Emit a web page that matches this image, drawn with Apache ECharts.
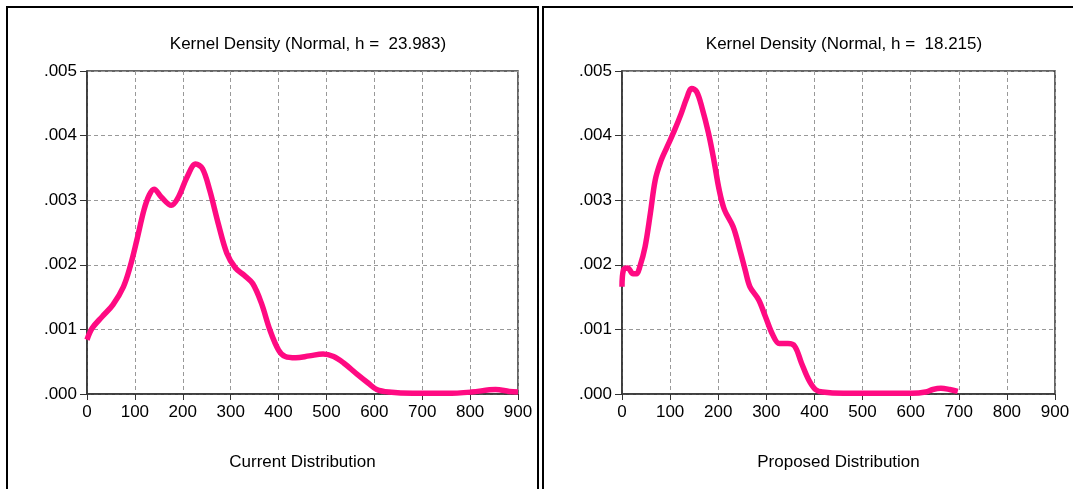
<!DOCTYPE html>
<html>
<head>
<meta charset="utf-8">
<script src="https://cdn.jsdelivr.net/npm/echarts@6/dist/echarts.min.js"></script>
<style>
html,body{margin:0;padding:0;background:#fff;}
#c{width:1073px;height:489px;}
</style>
</head>
<body>
<div id="c"></div>
<script>
// Current distribution kernel density (x, density)
var currentX = [0, 11, 32, 54, 76, 90, 104, 119, 130, 140, 155, 176, 191, 209, 227, 241, 256, 274, 292, 310, 328, 346, 364, 382, 400, 414, 436, 464, 493, 515, 536, 565, 587, 605, 630, 680, 752, 803, 853, 882, 900];
var currentY = [0.00084, 0.00102, 0.00120, 0.00138, 0.00166, 0.00197, 0.00238, 0.00285, 0.00308, 0.00317, 0.00305, 0.00292, 0.00305, 0.00336, 0.00356, 0.00349, 0.00316, 0.00264, 0.00218, 0.00195, 0.00184, 0.00171, 0.00141, 0.00099, 0.00068, 0.00058, 0.00056, 0.00059, 0.00062, 0.00058, 0.00048, 0.00030, 0.00017, 0.00007, 0.00003, 0.00001, 0.00001, 0.00003, 0.00007, 0.00004, 0.00003];
// Proposed distribution kernel density (x, density)
var proposedX = [0, 3, 12, 23, 30, 37, 48, 59, 69, 80, 94, 109, 123, 134, 145, 155, 166, 180, 191, 202, 213, 231, 245, 256, 266, 284, 298, 313, 327, 345, 359, 373, 388, 402, 417, 460, 531, 603, 631, 646, 663, 681, 698];
var proposedY = [0.00166, 0.00192, 0.00195, 0.00186, 0.00186, 0.00197, 0.00228, 0.00280, 0.00331, 0.00359, 0.00383, 0.00408, 0.00434, 0.00457, 0.00473, 0.00468, 0.00444, 0.00403, 0.00362, 0.00316, 0.00285, 0.00259, 0.00223, 0.00192, 0.00166, 0.00146, 0.00120, 0.00092, 0.00078, 0.00078, 0.00074, 0.00048, 0.00022, 0.00007, 0.00003, 0.00001, 0.00001, 0.00001, 0.00003, 0.00007, 0.00009, 0.00007, 0.00004];
var titles = ['Kernel Density (Normal, h =  23.983)', 'Kernel Density (Normal, h =  18.215)'];
var xNames = ['Current Distribution', 'Proposed Distribution'];
var yTickLabels = ['.000', '.001', '.002', '.003', '.004', '.005'];

function pairs(xs, ys) { return xs.map(function (x, i) { return [x, ys[i]]; }); }

var FONT = '"Liberation Sans", Arial, sans-serif';
var grids = [
  {left: 87, top: 71, width: 431, height: 323},
  {left: 622, top: 71, width: 433, height: 323}
];
function xAxis(i) {
  return {
    gridIndex: i, type: 'value', min: 0, max: 900, interval: 100,
    name: xNames[i], nameLocation: 'middle', nameGap: 60,
    nameTextStyle: {color: '#000', fontSize: 17, fontFamily: FONT},
    axisLine: {lineStyle: {color: '#333', width: 1.5}},
    axisTick: {show: true, length: 6, lineStyle: {color: '#333'}},
    axisLabel: {color: '#000', fontSize: 17, fontFamily: FONT, margin: 10},
    splitLine: {show: true, lineStyle: {color: '#999', type: [4, 3], width: 1}}
  };
}
function yAxis(i) {
  return {
    gridIndex: i, type: 'value', min: 0, max: 0.005, interval: 0.001,
    axisLine: {show: true, lineStyle: {color: '#333', width: 1.5}},
    axisTick: {show: true, length: 7, lineStyle: {color: '#333'}},
    axisLabel: {color: '#000', fontSize: 17, fontFamily: FONT, margin: 10,
      formatter: function (v) { return yTickLabels[Math.round(v / 0.001)]; }},
    splitLine: {show: true, lineStyle: {color: '#999', type: [4, 3], width: 1}}
  };
}
var chart = echarts.init(document.getElementById('c'), null, {renderer: 'canvas'});
chart.setOption({
  backgroundColor: '#fff',
  animation: false,
  title: [
    {text: titles[0], left: 303, top: 31, textAlign: 'center', textStyle: {color: '#000', fontSize: 17, fontWeight: 'normal', fontFamily: FONT}},
    {text: titles[1], left: 839, top: 31, textAlign: 'center', textStyle: {color: '#000', fontSize: 17, fontWeight: 'normal', fontFamily: FONT}}
  ],
  grid: grids.map(function (g) { return Object.assign({show: true, borderColor: '#333', borderWidth: 1.5, backgroundColor: 'transparent'}, g); }),
  xAxis: [xAxis(0), xAxis(1)],
  yAxis: [yAxis(0), yAxis(1)],
  graphic: [
    {type: 'rect', shape: {x: 7, y: 7, width: 531, height: 500}, style: {fill: 'none', stroke: '#000', lineWidth: 2}},
    {type: 'rect', shape: {x: 543, y: 7, width: 560, height: 500}, style: {fill: 'none', stroke: '#000', lineWidth: 2}}
  ],
  series: [
    {type: 'line', xAxisIndex: 0, yAxisIndex: 0, data: pairs(currentX, currentY), smooth: 0.35, showSymbol: false,
      lineStyle: {color: '#ff0a82', width: 5.5}, clip: false},
    {type: 'line', xAxisIndex: 1, yAxisIndex: 1, data: pairs(proposedX, proposedY), smooth: 0.35, showSymbol: false,
      lineStyle: {color: '#ff0a82', width: 5.5}, clip: false}
  ]
});
</script>
</body>
</html>
